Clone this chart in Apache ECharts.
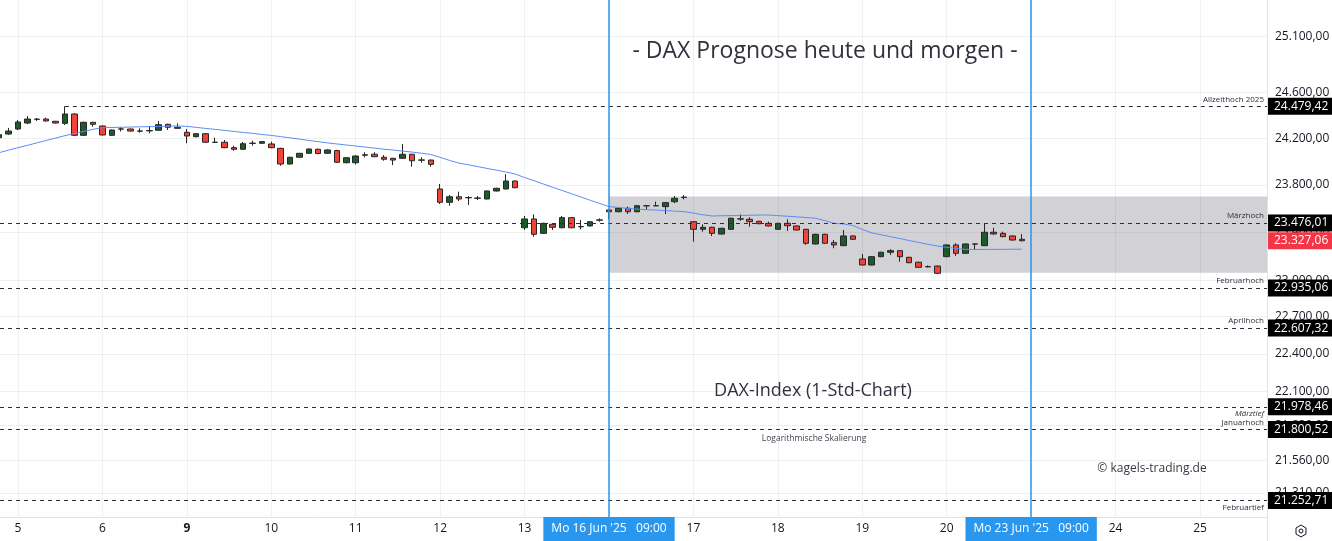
<!DOCTYPE html>
<html><head><meta charset="utf-8">
<script src="https://cdn.jsdelivr.net/npm/echarts@6/dist/echarts.min.js"></script>
<style>html,body{margin:0;padding:0;background:#fff}#c{width:1332px;height:541px}</style>
</head><body><div id="c"></div>
<script>
// ---- data ----
const tradingDays = ['2025-06-04','2025-06-05','2025-06-06','2025-06-09','2025-06-10','2025-06-11','2025-06-12','2025-06-13','2025-06-16','2025-06-17','2025-06-18','2025-06-19','2025-06-20'];
const sessionHours = [9,10,11,12,13,14,15,16,17];
const firstDayHours = [16,17];

const opens = [24205,24237,
24281,24333,24365,24368,24348,24330,24412,24226,24339,
24307,24226,24280,24281,24264,24265,24270,24322,24296,
24252,24214,24240,24166,24166,24119,24105,24156,24157,
24151,24113,23978,24036,24070,24105,24070,24094,23989,
23989,24054,24062,24036,24027,24027,24062,24011,24012,
23764,23651,23698,23689,23685,23679,23747,23764,23832,
23436,23510,23389,23465,23436,23521,23444,23451,23500,
23586,23571,23600,23571,23622,23621,23614,23656,23692,
23487,23423,23440,23383,23423,23509,23507,23490,23473,
23423,23473,23451,23423,23300,23381,23311,23286,23367,
23175,23125,23194,23231,23244,23189,23148,23112,23116,
23194,23292,23222,23300,23286,23398,23389,23367,23339];
const highs = [24242,24290,
24359,24394,24377,24380,24352,24479.42,24418,24345,24343,
24312,24276,24298,24285,24287,24307,24351,24326,24330,
24281,24245,24245,24205,24185,24136,24168,24179,24176,
24171,24118,24040,24074,24112,24111,24104,24100,24037,
24052,24079,24079,24055,24031,24151,24066,24036,24016,
23807,23713,23741,23704,23704,23752,23774,23890,23837,
23535,23549,23478,23469,23535,23526,23501,23492,23515,
23590,23604,23614,23626,23624,23656,23652,23704,23712,
23492,23465,23444,23436,23520,23549,23524,23495,23487,
23478,23507,23455,23427,23385,23385,23333,23417,23371,
23216,23198,23235,23256,23248,23193,23152,23121,23120,
23296,23306,23304,23302,23473,23436,23403,23371,23383];
const lows = [24194,24229,
24272,24324,24351,24346,24328,24316,24220,24220,24301,
24224,24222,24259,24259,24249,24243,24266,24272,24283,
24157,24209,24160,24162,24114,24093,24100,24136,24153,
24114,23963,23973,24032,24066,24063,24066,23988,23984,
23975,24036,24036,24006,23969,24023,23955,23989,23955,
23637,23622,23662,23628,23670,23675,23743,23760,23770,
23417,23361,23385,23417,23432,23432,23423,23447,23487,
23507,23567,23552,23567,23592,23619,23552,23643,23676,
23319,23403,23366,23379,23419,23495,23445,23466,23447,
23419,23409,23413,23292,23296,23302,23264,23282,23335,
23121,23121,23190,23208,23152,23140,23102,23104,23052,
23190,23200,23218,23250,23282,23377,23357,23329,23322];
const closes = [24231,24263,
24342,24368,24367,24351,24333,24412,24226,24339,24322,
24229,24272,24282,24263,24262,24267,24318,24296,24287,
24220,24240,24166,24165,24119,24105,24153,24158,24171,
24119,23978,24036,24070,24107,24068,24099,23993,24032,
24047,24057,24041,24019,24012,24062,24006,24013,23975,
23651,23698,23679,23691,23687,23747,23770,23832,23775,
23510,23381,23473,23440,23521,23436,23446,23487,23502,
23571,23600,23571,23622,23621,23622,23648,23685,23694,
23423,23440,23389,23431,23516,23511,23487,23470,23451,
23473,23453,23417,23306,23381,23306,23292,23367,23339,
23125,23194,23231,23244,23194,23144,23106,23110,23056,
23292,23222,23300,23299,23398,23384,23361,23333,23327.06];
const movingAvg = [24076,24098,
24119,24139,24160,24181,24202,24223,24241,24260,24278,
24293,24294,24296,24298,24300,24301,24303,24305,24307,
24304,24295,24286,24278,24269,24260,24251,24243,24233,
24225,24215,24204,24193,24181,24171,24160,24151,24142,
24133,24124,24115,24106,24098,24089,24081,24071,24060,
24035,24009,23986,23971,23956,23940,23925,23910,23892,
23862,23835,23807,23779,23751,23724,23696,23668,23641,
23615,23607,23599,23593,23588,23585,23581,23576,23572,
23560,23545,23535,23537,23538,23539,23541,23543,23543,
23538,23533,23528,23522,23516,23496,23473,23468,23455,
23422,23393,23377,23361,23345,23329,23313,23297,23283,
23272,23263,23255,23254,23254,23255,23255,23256,23256];

// x-axis day ticks (index of the 09:00 candle of each day)
const dayTickIdx    = [2, 11, 20, 29, 38, 47, 56, 65, 74, 83, 92, 101, 110, 119, 128];
const dayTickLabels = ['5','6','9','10','11','12','13','','17','18','19','20','','24','25'];
const boldDayLabels = ['9'];

// y-axis price ticks (log scale)
const priceTicks = [25100, 24600, 24200, 23800, 23400, 23000, 22700, 22400, 22100, 21830, 21560, 21310];

// horizontal levels
const levelValues = [24479.42, 23476.01, 22935.06, 22607.32, 21978.46, 21800.52, 21252.71];
const levelNames  = ['Allzeithoch 2025','Märzhoch','Februarhoch','Aprilhoch','Märztief','Januarhoch','Februartief'];
const levelBelow  = [false,false,false,false,true,false,true];
const levelStart  = [7, null, null, null, null, null, null];

// forecast zone and date markers
const zoneTop = 23700, zoneBottom = 23060, zoneStartIdx = 65;
const dateMarkerIdx = [65, 110];
const dateMarkerLabels = ["Mo 16 Jun '25   09:00", "Mo 23 Jun '25   09:00"];

// ---- build ----
const times = [];
tradingDays.forEach((d, di) => {
  (di === 0 ? firstDayHours : sessionHours).forEach(h => times.push(d + ' ' + String(h).padStart(2,'0') + ':00'));
});
const candleData = times.map((t, i) => [i, opens[i], closes[i], lows[i], highs[i]]);
const maData = times.map((t, i) => [i, movingAvg[i]]);

const fmt = v => {
  const s = v.toFixed(2).split('.');
  return s[0].replace(/\B(?=(\d{3})+(?!\d))/g, '.') + ',' + s[1];
};

const X_MIN = 0.0812, X_MAX = 135.14;
const Y_MIN = 21126.4, Y_MAX = 25430.8;
const FONT = '"Open Sans", sans-serif';
const gridColor = 'rgba(42,46,57,0.07)';

const chart = echarts.init(document.getElementById('c'), null, {renderer: 'canvas'});

const option = {
  animation: false,
  backgroundColor: '#ffffff',
  textStyle: {fontFamily: FONT},
  grid: {left: 0, right: 65, top: 0, bottom: 24, outerBoundsMode: 'none', containLabel: false},
  xAxis: {
    type: 'value', min: X_MIN, max: X_MAX,
    axisLine: {show: true, onZero: false, lineStyle: {color: '#e0e3eb'}},
    axisTick: {show: false}, axisLabel: {show: false}, splitLine: {show: false}
  },
  yAxis: {
    type: 'log', logBase: 10, min: Y_MIN, max: Y_MAX, position: 'right',
    axisLine: {show: true, lineStyle: {color: '#e0e3eb'}},
    axisTick: {show: false}, axisLabel: {show: false}, splitLine: {show: false}
  },
  graphic: [
    {type: 'text', x: 825, y: 51, z: 10, style: {text: '- DAX Prognose heute und morgen -', fill: '#2f323c', font: '23px ' + FONT, align: 'center', verticalAlign: 'middle'}},
    {type: 'text', x: 813, y: 391, z: 10, style: {text: 'DAX-Index (1-Std-Chart)', fill: '#2f323c', font: '18px ' + FONT, align: 'center', verticalAlign: 'middle'}},
    {type: 'text', x: 814, y: 439, z: 10, style: {text: 'Logarithmische Skalierung', fill: '#434651', font: '8.5px ' + FONT, align: 'center', verticalAlign: 'middle'}},
    {type: 'text', x: 1152, y: 469, z: 10, style: {text: '© kagels-trading.de', fill: '#363a45', font: '12px ' + FONT, align: 'center', verticalAlign: 'middle'}},
    {type: 'line', z: 10, shape: {x1: 1267.5, y1: 517, x2: 1267.5, y2: 541}, style: {stroke: '#e0e3eb', lineWidth: 1}},
    {type: 'polygon', z: 10, shape: {points: [[1301,525],[1306,528],[1306,534],[1301,537],[1296,534],[1296,528]]}, style: {fill: 'none', stroke: '#131722', lineWidth: 1}},
    {type: 'circle', z: 10, shape: {cx: 1301, cy: 531, r: 2}, style: {fill: 'none', stroke: '#131722', lineWidth: 1}}
  ],
  series: [
    {
      name: 'zone', type: 'line', data: [], z: 0, silent: true,
      markArea: {
        silent: true,
        itemStyle: {color: '#d1d1d6'},
        data: [[{xAxis: zoneStartIdx, yAxis: zoneTop}, {xAxis: X_MAX, yAxis: zoneBottom}]]
      }
    },
    {
      name: 'grid', type: 'line', data: [], z: 1, silent: true,
      markLine: {
        silent: true, symbol: ['none', 'none'], animation: false,
        lineStyle: {color: gridColor, type: 'solid', width: 1},
        data: [
          ...priceTicks.map(v => ({yAxis: v, label: {show: true, position: 'end', distance: 8, formatter: fmt(v), color: '#131722', fontSize: 12, fontFamily: FONT}})),
          ...dayTickIdx.map((idx, j) => ({xAxis: idx, label: {
            show: dayTickLabels[j] !== '', position: 'start', distance: 6,
            formatter: boldDayLabels.includes(dayTickLabels[j]) ? '{b|' + dayTickLabels[j] + '}' : dayTickLabels[j],
            color: '#131722', fontSize: 12, fontFamily: FONT,
            rich: {b: {fontWeight: 'bold', fontSize: 12, color: '#131722', fontFamily: FONT}}
          }}))
        ]
      }
    },
    {
      name: 'DAX', type: 'candlestick', z: 2, data: candleData, barWidth: 6,
      itemStyle: {color: '#1e5b2b', color0: '#f44336', borderColor: '#262626', borderColor0: '#262626', borderWidth: 1}
    },
    {
      name: 'MA', type: 'line', z: 3, data: maData, symbol: 'none', showSymbol: false,
      lineStyle: {color: '#5c8df6', width: 1}
    },
    {
      name: 'levels', type: 'line', data: [], z: 4, silent: true,
      markLine: {
        silent: true, symbol: ['none', 'none'],
        lineStyle: {color: '#2a2e39', type: [4, 4], width: 1},
        data: levelValues.map((v, j) => {
          const lab = {show: true, position: levelBelow[j] ? 'insideEndBottom' : 'insideEndTop', distance: 3,
            formatter: levelNames[j], color: '#2a2e39', fontSize: 8, fontFamily: FONT,
            fontStyle: levelNames[j] === 'Märztief' ? 'italic' : 'normal'};
          if (levelStart[j] != null) {
            return [{xAxis: levelStart[j], yAxis: v, label: lab}, {xAxis: X_MAX, yAxis: v}];
          }
          return {yAxis: v, label: lab};
        })
      }
    },
    {
      name: 'boxes', type: 'line', data: [], z: 6, silent: true,
      markLine: {
        silent: true, symbol: ['none', 'none'],
        lineStyle: {color: 'rgba(0,0,0,0)', width: 0},
        data: [
          ...levelValues.map(v => ({yAxis: v, label: {show: true, position: 'end', distance: 1, formatter: fmt(v),
            backgroundColor: '#000000', color: '#ffffff', fontSize: 12, fontFamily: FONT, lineHeight: 13, padding: [2, 5, 2, 6], width: 53}})),
          {yAxis: closes[closes.length - 1], label: {show: true, position: 'end', distance: 1, formatter: fmt(closes[closes.length - 1]),
            backgroundColor: '#f23645', color: '#ffffff', fontSize: 12, fontFamily: FONT, lineHeight: 13, padding: [2, 5, 2, 6], width: 53}}
        ]
      }
    },
    {
      name: 'dates', type: 'line', data: [], z: 7, silent: true,
      markLine: {
        silent: true, symbol: ['none', 'none'],
        lineStyle: {color: '#2a97ef', type: 'solid', width: 1.5},
        data: dateMarkerIdx.map((idx, j) => ({xAxis: idx, label: {show: true, position: 'start', distance: 0,
          formatter: dateMarkerLabels[j], backgroundColor: '#2a97ef', color: '#ffffff', fontSize: 12, fontFamily: FONT,
          lineHeight: 14, padding: [5, 8, 5, 8]}}))
      }
    }
  ]
};
chart.setOption(option);
</script>
</body></html>
